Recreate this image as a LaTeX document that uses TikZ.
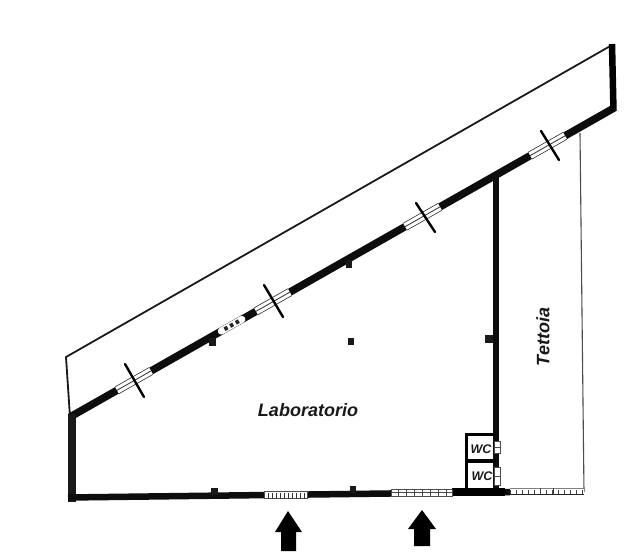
\documentclass[tikz,border=0pt]{standalone}
\usepackage{fontspec}
\setmainfont{Liberation Sans}
\usetikzlibrary{calc}
\tikzset{
  thinwall/.style={line width=1.8pt,black!90},
  hairwall/.style={line width=1.1pt,black!70},
  crossbar/.style={line width=2.4pt,black,line cap=round},
  pillar/.style={fill=black!90,draw=none},
  arrowshape/.style={fill=black,draw=none},
  lab/.style={inner sep=0pt,text=black!90},
  biglab/.style={lab,font=\fontsize{18}{20}\selectfont\bfseries\itshape},
  wclab/.style={lab,font=\fontsize{12.5}{14}\selectfont\bfseries\itshape},
}
\begin{document}
\begin{tikzpicture}[x=1pt,y=-1pt]
\useasboundingbox (0,0) rectangle (633,560);
\fill[white] (0,0) rectangle (633,560);
% key points
\coordinate (A) at (70,417);
\coordinate (B) at (614,108);
\coordinate (TL) at (66,357);
\coordinate (TR) at (612,45);
\coordinate (BL) at (70,497);
\coordinate (BM) at (510,492);
\coordinate (VT) at (496,175);
\coordinate (VB) at (496,492);
\coordinate (RT) at (580,133);
\coordinate (RB) at (584,492);
% thin outlines
\draw[thinwall] (A) -- (TL) -- (TR);
\draw[hairwall] (RT) -- (RB);
% thick walls
\draw[line width=7.5pt,black!95] (A) -- (B);
\draw[line width=6.5pt,black] (612,44) -- (613.5,111);
\draw[line width=8pt,black!90] (71.5,414) -- (71.5,502);
\draw[line width=6.5pt,black!95] (68,497.5) -- (BM);
\draw[line width=6.5pt,black!95] (VT) -- (VB);
% WC rooms
\draw[line width=3pt,black] (466,491) -- (466,434.5) -- (496,434.5);
\draw[line width=3.5pt,black] (466,461) -- (496,461);
\fill[black] (452,488) rectangle (505,495.5);
% WC doors
\foreach \ya/\yb in {441/453,467/485}{
  \fill[white,draw=black!70,line width=.6pt] (494,\ya) rectangle (500,\yb);
  \draw[black!70,line width=.6pt] (494,{(\ya+\yb)/2}) -- (500,{(\ya+\yb)/2});
}
% diagonal windows
\foreach \ta/\tb in {.0864/.149,.342/.404,.616/.680,.846/.910}{
  \draw[line width=8.5pt,black!80] ($(A)!\ta!(B)$) -- ($(A)!\tb!(B)$);
  \draw[line width=7pt,white] ($(A)!\ta!(B)$) -- ($(A)!\tb!(B)$);
  \draw[line width=.9pt,black!75] ($(A)!\ta!(B)$) -- ($(A)!\tb!(B)$);
}
% small diagonal door
\draw[line width=7pt,white,line cap=round] ($(A)!.278!(B)$) -- ($(A)!.316!(B)$);
\draw[line width=4pt,black!85,dash pattern=on 3.5pt off 3pt] ($(A)!.284!(B)$) -- ($(A)!.312!(B)$);
% crossbars
\draw[crossbar] (125,364) -- (144,397);
\draw[crossbar] (264,285) -- (283,317);
\draw[crossbar] (416,203) -- (435,232);
\draw[crossbar] (541,131) -- (559,160);
% bottom openings
\fill[white,draw=black!70,line width=.7pt] (264,491.5) rectangle (307,498);
\foreach \x in {268,272,...,304}{\draw[black!80,line width=.7pt] (\x,493) -- (\x,498.5);}
\fill[white,draw=black!70,line width=.7pt] (391,489.5) rectangle (452,496);
\draw[black!70,line width=.7pt] (391,492.8) -- (452,492.8);
\foreach \x in {398,406,...,446}{\draw[black!70,line width=.6pt] (\x,489.5) -- (\x,496);}
\fill[white] (510,488) rectangle (584,494.5);
\draw[black!85,line width=1pt] (510,494) -- (584,494);
\draw[black!50,line width=.5pt] (510,488) -- (584,488);
\foreach \x in {510,516,...,582}{\draw[black!75,line width=.6pt] (\x,490) -- (\x,494);}
\draw[black!75,line width=.7pt] (540,488) -- (540,494);
\draw[black!75,line width=.7pt] (553,488) -- (553,494);
% pillars
\fill[pillar] (209,338) rectangle (216,346);
\fill[pillar] (346,260) rectangle (352,268);
\fill[pillar] (348,338) rectangle (354,345);
\fill[pillar] (485,335) rectangle (493,343);
\fill[pillar] (211,488) rectangle (218,495);
\fill[pillar] (350,486) rectangle (356,493);
% entrance arrows
\fill[arrowshape] (288,511) -- (302,532) -- (296,532) -- (296,551) -- (281,551) -- (281,532) -- (275,532) -- cycle;
\fill[arrowshape] (422,510) -- (436,529) -- (430,529) -- (430,546) -- (414,546) -- (414,529) -- (408,529) -- cycle;
% labels
\node[biglab] (lab) at (308,410) {Laboratorio};
\node[biglab,rotate=90] (tet) at (543,337) {Tettoia};
\node[wclab] (wc1) at (481,449) {WC};
\node[wclab] (wc2) at (482,476) {WC};
\end{tikzpicture}
\end{document}
